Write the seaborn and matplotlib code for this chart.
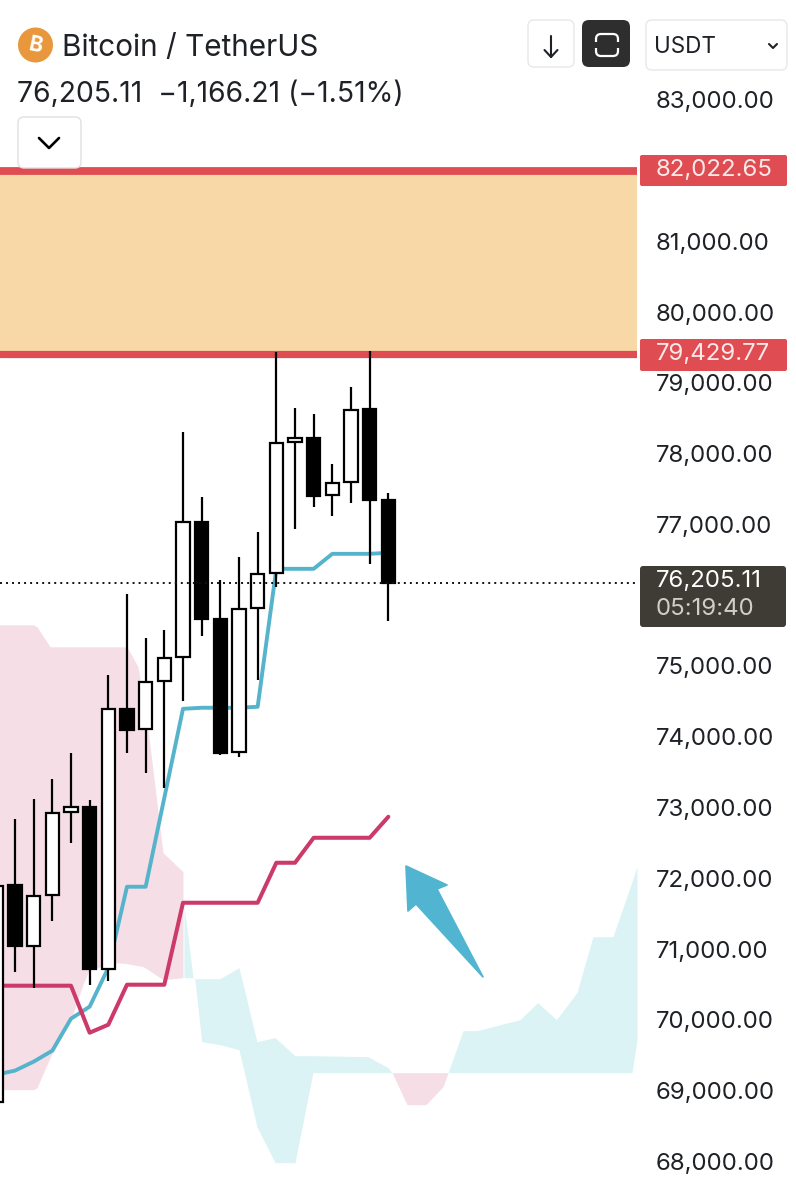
# Bitcoin / TetherUS candles with Ichimoku cloud
import pandas as pd
import matplotlib
matplotlib.use("Agg")
import matplotlib.pyplot as plt
from matplotlib.patches import FancyBboxPatch, Circle, Polygon, Rectangle
from matplotlib.transforms import ScaledTranslation
import seaborn as sns

# ===============================
# Data
# ===============================
opens = [68873, 71938, 71076, 71796, 72969, 73039, 70751, 74423, 74141, 74819, 75158,
         77065, 75695, 73816, 75850, 76344, 78195, 78251, 77446, 77630, 78661, 77375]
highs = [72500, 72870, 73152, 73435, 73802, 73138, 74904, 76048, 75426, 75539, 78336,
         77418, 76245, 76570, 76923, 79466, 78675, 78590, 77884, 78971, 79480, 77474]
lows = [68700, 70709, 70483, 71429, 72531, 70525, 70582, 73802, 73520, 73308, 74537,
        75455, 73774, 73746, 74833, 76147, 76966, 77277, 77149, 77333, 76471, 75666]
closes = [71924, 71076, 71782, 72955, 73039, 70751, 74423, 74127, 74805, 75144, 77065,
          75695, 73802, 75836, 76330, 78180, 78251, 77432, 77616, 78647, 77375, 76205.11]

conversion = [69254, 69311, 69438, 69593, 70045, 70215, 70765, 71909, 71909, 73166, 74423,
              74438, 74438, 74438, 74452, 76401, 76401, 76401, 76613, 76613, 76613, 76627]
base = [70511, 70511, 70511, 70511, 70511, 69847, 69960, 70525, 70525, 70525, 71683,
        71683, 71683, 71683, 71683, 72248, 72248, 72601, 72601, 72601, 72601, 72898]

pink_x = [0, 2, 2.18, 2.88, 4, 4.64, 4.97, 6.47, 7, 7.59, 7.86, 8.13, 8.93, 10]
pink_top = [75610, 75610, 75582, 75299, 75299, 75299, 75299, 75299, 75299, 75017, 74593, 74127, 72390, 72121]
pink_low = [69042, 69042, 69070, 69494, 70031, 70525, 70737, 70836, 70822, 70794, 70780, 70737, 70596, 70624]

teal_x = [10.05, 10.54, 10.64, 11, 11.98, 13, 13.96, 14.93, 16, 16.96, 19.91, 20.98, 21.2]
teal_top = [71655, 70624, 70610, 70610, 70610, 70765, 69720, 69777, 69522, 69522, 69508, 69353, 69282]
teal_low = [70624, 70624, 70596, 69720, 69678, 69607, 68520, 68011, 68011, 69282, 69282, 69282, 69282]

pink2_x = [21.2, 22, 23.02, 23.93, 24.2]
pink2_top = [69282, 69282, 69282, 69282, 69282]
pink2_low = [69282, 68830, 68830, 69085, 69282]

teal2_x = [24.2, 25, 25.75, 28.05, 29, 30, 31.1, 31.96, 33.03, 34.05, 34.32]
teal2_top = [69282, 69876, 69876, 70031, 70271, 70031, 70412, 71203, 71203, 71980, 72192]
teal2_low = [69282, 69282, 69282, 69282, 69282, 69282, 69282, 69282, 69282, 69282, 69748]

tick_values = [83000, 81000, 80000, 79000, 78000, 77000, 75000, 74000, 73000, 72000, 71000, 70000, 69000, 68000]
band_top = 82022.65
band_low = 79429.77
last_price = 76205.11

# ===============================
# Colours
# ===============================
BLUE = "#55B4CB"
CRIMSON = "#CB3A68"
PINK = "#F6DEE7"
TEAL = "#DBF3F5"
BAND = "#F8D8A6"
RED = "#DF4C52"
INK = "#1E2126"

sns.set_theme(style="white")
plt.rcParams["font.family"] = ["Inter", "DejaVu Sans"]

fig = plt.figure(figsize=(7.96, 12), dpi=100, facecolor="white")
ax = fig.add_axes([0, 0, 637 / 796, 1])

# ===============================
# Cloud and levels
# ===============================
ax.fill_between(pink_x, pink_low, pink_top, color=PINK, lw=0, zorder=1)
ax.fill_between(teal_x, teal_low, teal_top, color=TEAL, lw=0, zorder=1)
ax.fill_between(pink2_x, pink2_low, pink2_top, color=PINK, lw=0, zorder=1)
ax.fill_between(teal2_x, teal2_low, teal2_top, color=TEAL, lw=0, zorder=1)

ax.axhspan(band_low, band_top, color=BAND, lw=0, zorder=1)
ax.axhline(band_top, color=RED, lw=5.6, zorder=2)
ax.axhline(band_low, color=RED, lw=5.2, zorder=2)

# ===============================
# Ichimoku lines
# ===============================
lines = pd.DataFrame({"bar": range(len(base)), "conversion": conversion, "base": base})
sns.lineplot(data=lines, x="bar", y="conversion", color=BLUE, lw=2.8, ax=ax, zorder=3,
             errorbar=None, estimator=None)
sns.lineplot(data=lines, x="bar", y="base", color=CRIMSON, lw=2.9, ax=ax, zorder=3,
             errorbar=None, estimator=None)

# ===============================
# Candles
# ===============================
bars = range(len(opens))
ax.vlines(bars, lows, highs, color="black", lw=1.6, zorder=4)
for i in bars:
    rising = closes[i] >= opens[i]
    ax.bar(i, abs(closes[i] - opens[i]), bottom=min(opens[i], closes[i]), width=0.72,
           facecolor="white" if rising else "black", edgecolor="black", lw=1.6, zorder=5)

ax.axhline(last_price, color="#111111", lw=1.4, linestyle=(0, (1.0, 2.1)), zorder=6)

# ===============================
# Axes, price scale on the right
# ===============================
ax.set_xlim(0.198, 34.32)
ax.set_ylim(67483, 84438)
ax.set_xticks([])
ax.yaxis.tick_right()
ax.set_yticks(tick_values, [f"{v:,.2f}" for v in tick_values])
ax.tick_params(axis="y", length=0, pad=13.4, labelsize=17.3, labelcolor=INK)
ax.set_xlabel("")
ax.set_ylabel("")
sns.despine(ax=ax, left=True, right=True, top=True, bottom=True)
for label in ax.get_yticklabels():
    label.set_transform(label.get_transform() + ScaledTranslation(0, 0.02, fig.dpi_scale_trans))

# ===============================
# Overlay in picture pixels: header, tags, arrow
# ===============================
ui = fig.add_axes([0, 0, 1, 1], facecolor="none")
ui.set_xlim(0, 796)
ui.set_ylim(1200, 0)
ui.axis("off")


def box(x0, y0, x1, y1, face, edge="none", r=6, lw=1):
    ui.add_patch(FancyBboxPatch((x0 + r, y0 + r), x1 - x0 - 2 * r, y1 - y0 - 2 * r,
                                boxstyle=f"round,pad={r}", facecolor=face, edgecolor=edge, lw=lw))


# logo and title
ui.add_patch(Circle((35.5, 45), 17.5, color="#E9973C", lw=0))
ui.text(35.5, 45.5, "B", color="white", fontsize=15, fontweight="bold", rotation=-12,
        ha="center", va="center")
ui.text(62, 48, "Bitcoin / TetherUS", color=INK, fontsize=21.4, va="center")
ui.text(17, 94, "76,205.11  −1,166.21 (−1.51%)", color=INK, fontsize=20.4, va="center")

# buttons
box(528, 20, 574, 67, "white", "#E8E8EA")
ui.plot([551, 551], [36, 57], color=INK, lw=1.5)
ui.plot([544.5, 551, 557.5], [50, 57, 50], color=INK, lw=1.5)

box(582, 20, 630, 67, "#2E2E2E", r=7)
box(596, 34, 618, 56, "none", "white", r=5, lw=1.6)
ui.add_patch(Rectangle((593, 42), 28, 6, color="#2E2E2E", lw=0))

box(646, 20, 787, 70, "white", "#E8E8EA")
ui.text(654, 47, "USDT", color=INK, fontsize=16.2, va="center")
ui.plot([769, 773, 777], [44, 48, 44], color=INK, lw=1.5)

box(18, 117, 81, 168, "white", "#E0E0E2")
ui.plot([39, 49, 59], [138, 148, 138], color="black", lw=1.9)

# level tags
box(640, 155, 787, 186, RED, r=2)
ui.text(656, 170, "82,022.65", color="#FBE9E9", fontsize=17.3, va="center")
box(640, 339, 787, 371, RED, r=2)
ui.text(656, 354.5, "79,429.77", color="#FBE9E9", fontsize=17.3, va="center")

# last price tag
box(640, 566, 786, 627, "#3F3C35", r=3)
ui.text(656, 581, "76,205.11", color="white", fontsize=17.3, va="center")
ui.text(656, 609, "05:19:40", color="#CFCEC9", fontsize=17.3, va="center")

# hand drawn arrow
arrow_x = [406, 447, 437, 483, 416, 408]
arrow_y = [866, 885, 889, 977, 904, 911]
ui.add_patch(Polygon(list(zip(arrow_x, arrow_y)), closed=True, facecolor="#51B5D1",
                     edgecolor="#51B5D1", lw=1.2, joinstyle="round"))

fig.savefig("out.png", dpi=100)
